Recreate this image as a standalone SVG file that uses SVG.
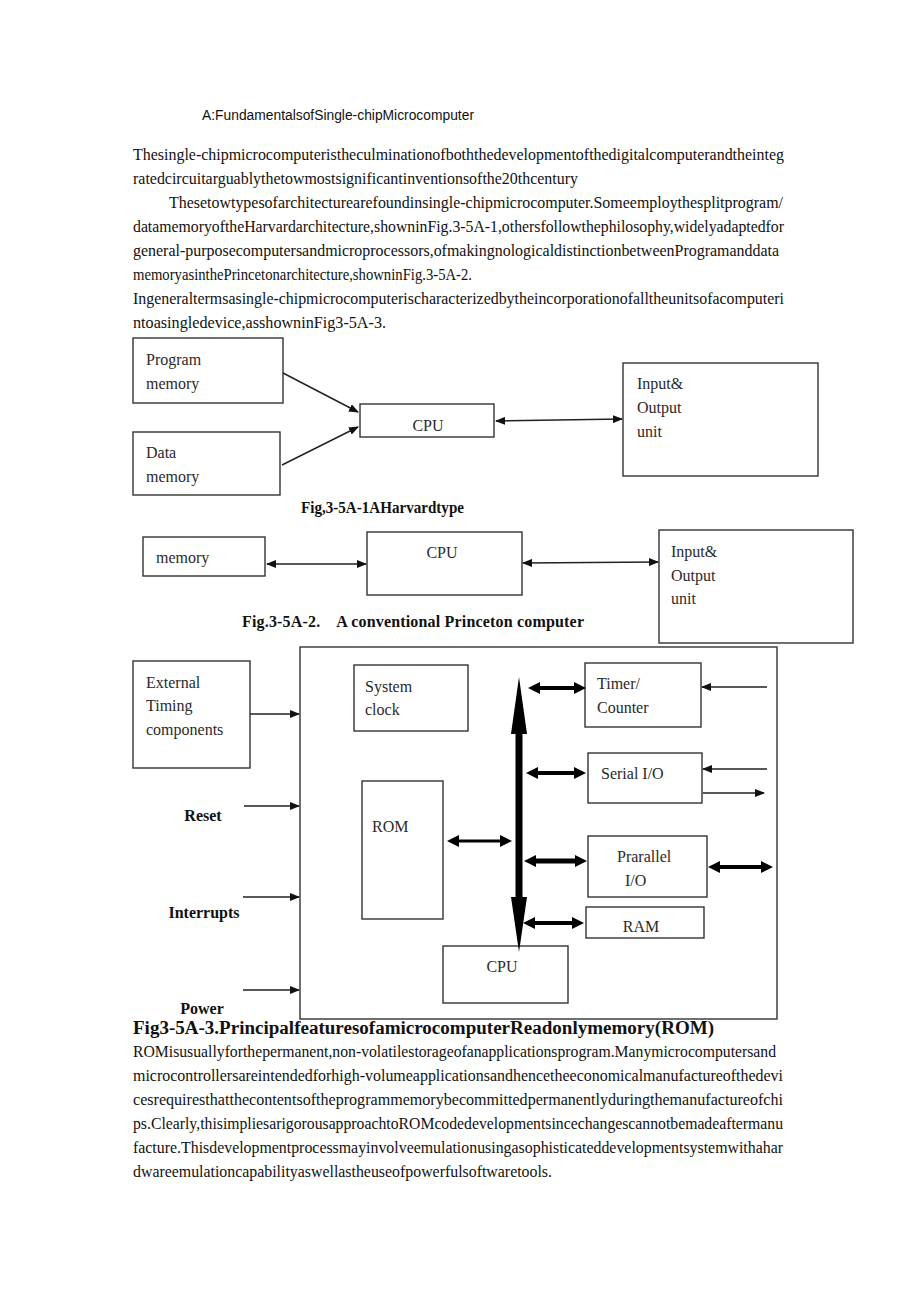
<svg xmlns="http://www.w3.org/2000/svg" width="920" height="1302" viewBox="0 0 920 1302">
<style>
.box{fill:none;stroke:#333;stroke-width:1.4}
.t{font-family:"Liberation Serif",serif;font-size:16px;fill:#2a2a2a}
.tb{font-family:"Liberation Serif",serif;font-size:16px;font-weight:bold;fill:#111}
.body{font-family:"Liberation Serif",serif;font-size:16.5px;fill:#111}
.capb{font-family:"Liberation Serif",serif;font-size:16.5px;font-weight:bold;fill:#111}
.title{font-family:"Liberation Sans",sans-serif;font-size:14px;fill:#111}
.ln{stroke:#222;stroke-width:1.5;fill:none}
.thk{stroke:#000;stroke-width:4;fill:none}
</style>
<defs>
<marker id="a" markerUnits="userSpaceOnUse" viewBox="0 0 10 8" markerWidth="10" markerHeight="8" refX="9" refY="4" orient="auto-start-reverse"><path d="M0,0 L10,4 L0,8 z" fill="#111"/></marker>
<marker id="b" markerUnits="userSpaceOnUse" viewBox="0 0 12 12" markerWidth="12" markerHeight="12" refX="4" refY="6" orient="auto-start-reverse"><path d="M0,0 L12,6 L0,12 z" fill="#000"/></marker>
</defs>
<rect width="920" height="1302" fill="#fff"/>

<g id="text-top">
<text class="title" x="202" y="120" textLength="272" lengthAdjust="spacingAndGlyphs">A:FundamentalsofSingle-chipMicrocomputer</text>
<text class="body" x="133" y="160" textLength="651" lengthAdjust="spacingAndGlyphs">Thesingle-chipmicrocomputeristheculminationofboththedevelopmentofthedigitalcomputerandtheinteg</text>
<text class="body" x="133" y="184" textLength="445" lengthAdjust="spacingAndGlyphs">ratedcircuitarguablythetowmostsignificantinventionsofthe20thcentury</text>
<text class="body" x="169" y="208" textLength="614" lengthAdjust="spacingAndGlyphs">Thesetowtypesofarchitecturearefoundinsingle-chipmicrocomputer.Someemploythesplitprogram/</text>
<text class="body" x="133" y="232" textLength="651" lengthAdjust="spacingAndGlyphs">datamemoryoftheHarvardarchitecture,showninFig.3-5A-1,othersfollowthephilosophy,widelyadaptedfor</text>
<text class="body" x="133" y="256" textLength="646" lengthAdjust="spacingAndGlyphs">general-purposecomputersandmicroprocessors,ofmakingnologicaldistinctionbetweenProgramanddata</text>
<text class="body" x="133" y="280" textLength="339" lengthAdjust="spacingAndGlyphs">memoryasinthePrincetonarchitecture,showninFig.3-5A-2.</text>
<text class="body" x="133" y="304" textLength="651" lengthAdjust="spacingAndGlyphs">Ingeneraltermsasingle-chipmicrocomputerischaracterizedbytheincorporationofalltheunitsofacomputeri</text>
<text class="body" x="133" y="328" textLength="253" lengthAdjust="spacingAndGlyphs">ntoasingledevice,asshowninFig3-5A-3.</text>
</g>

<g id="fig1-program-memory"><rect class="box" x="133" y="338" width="150" height="65"/><text class="t" x="146" y="365">Program</text><text class="t" x="146" y="389">memory</text></g>
<g id="fig1-data-memory"><rect class="box" x="133" y="432" width="147" height="63"/><text class="t" x="146" y="458">Data</text><text class="t" x="146" y="482">memory</text></g>
<g id="fig1-cpu"><rect class="box" x="360" y="404" width="134" height="33"/><text class="t" x="428" y="431" text-anchor="middle">CPU</text></g>
<g id="fig1-io"><rect class="box" x="623" y="363" width="195" height="113"/><text class="t" x="637" y="389">Input&amp;</text><text class="t" x="637" y="413">Output</text><text class="t" x="637" y="437">unit</text></g>
<g id="fig1-caption"><text class="capb" x="301" y="513" textLength="163" lengthAdjust="spacingAndGlyphs">Fig,3-5A-1AHarvardtype</text></g>

<g id="fig2-memory"><rect class="box" x="143" y="537" width="122" height="39"/><text class="t" x="156" y="563">memory</text></g>
<g id="fig2-cpu"><rect class="box" x="367" y="532" width="155" height="63"/><text class="t" x="442" y="558" text-anchor="middle">CPU</text></g>
<g id="fig2-io"><rect class="box" x="659" y="530" width="194" height="113"/><text class="t" x="671" y="557">Input&amp;</text><text class="t" x="671" y="581">Output</text><text class="t" x="671" y="604">unit</text></g>
<g id="fig2-caption"><text class="tb" x="242" y="627" textLength="342" lengthAdjust="spacing" xml:space="preserve">Fig.3-5A-2.    A conventional Princeton computer</text></g>

<g id="fig3-chip"><rect class="box" x="300" y="647" width="477" height="372"/></g>
<g id="fig3-external"><rect class="box" x="133" y="661" width="117" height="107"/><text class="t" x="146" y="688">External</text><text class="t" x="146" y="711">Timing</text><text class="t" x="146" y="735">components</text></g>
<g id="fig3-reset"><text class="tb" x="203" y="821" text-anchor="middle">Reset</text></g>
<g id="fig3-interrupts"><text class="tb" x="204" y="918" text-anchor="middle">Interrupts</text></g>
<g id="fig3-power"><text class="tb" x="202" y="1014" text-anchor="middle">Power</text></g>
<g id="fig3-sysclock"><rect class="box" x="354" y="665" width="114" height="66"/><text class="t" x="365" y="692">System</text><text class="t" x="365" y="715">clock</text></g>
<g id="fig3-rom"><rect class="box" x="362" y="781" width="81" height="138"/><text class="t" x="372" y="832">ROM</text></g>
<g id="fig3-timer"><rect class="box" x="585" y="663" width="116" height="64"/><text class="t" x="597" y="689">Timer/</text><text class="t" x="597" y="713">Counter</text></g>
<g id="fig3-serial"><rect class="box" x="588" y="753" width="114" height="50"/><text class="t" x="601" y="779">Serial I/O</text></g>
<g id="fig3-parallel"><rect class="box" x="588" y="836" width="119" height="61"/><text class="t" x="617" y="862">Prarallel</text><text class="t" x="625" y="886">I/O</text></g>
<g id="fig3-ram"><rect class="box" x="586" y="907" width="118" height="31"/><text class="t" x="641" y="932" text-anchor="middle">RAM</text></g>
<g id="fig3-cpu"><rect class="box" x="443" y="946" width="125" height="57"/><text class="t" x="502" y="972" text-anchor="middle">CPU</text></g>
<g id="fig3-caption"><text class="capb" style="font-size:18.5px" x="133" y="1034" textLength="581" lengthAdjust="spacingAndGlyphs">Fig3-5A-3.PrincipalfeaturesofamicrocomputerReadonlymemory(ROM)</text></g>

<g id="connectors">
<line class="ln" x1="283" y1="373" x2="358" y2="412" marker-end="url(#a)"/>
<line class="ln" x1="282" y1="465" x2="358" y2="427" marker-end="url(#a)"/>
<line class="ln" x1="496" y1="421" x2="622" y2="419" marker-start="url(#a)" marker-end="url(#a)"/>
<line class="ln" x1="267" y1="564" x2="366" y2="564" marker-start="url(#a)" marker-end="url(#a)"/>
<line class="ln" x1="523" y1="563" x2="658" y2="562" marker-start="url(#a)" marker-end="url(#a)"/>
<line class="ln" x1="250" y1="714" x2="299" y2="714" marker-end="url(#a)"/>
<line class="ln" x1="244" y1="806" x2="299" y2="806" marker-end="url(#a)"/>
<line class="ln" x1="243" y1="897" x2="299" y2="897" marker-end="url(#a)"/>
<line class="ln" x1="243" y1="990" x2="299" y2="990" marker-end="url(#a)"/>
<line class="ln" x1="767" y1="687" x2="702" y2="687" marker-end="url(#a)"/>
<line class="ln" x1="767" y1="769" x2="703" y2="769" marker-end="url(#a)"/>
<line class="ln" x1="703" y1="793" x2="764" y2="793" marker-end="url(#a)"/>
<g id="bus">
<rect x="515.5" y="730" width="7" height="171" fill="#000"/>
<polygon points="519,677 527,734 511,734" fill="#000"/>
<polygon points="511,897 527,897 519,952" fill="#000"/>
</g>
<line class="thk" x1="536" y1="688" x2="578" y2="688" marker-start="url(#b)" marker-end="url(#b)"/>
<line class="thk" x1="534" y1="773" x2="578" y2="773" marker-start="url(#b)" marker-end="url(#b)"/>
<line class="thk" style="stroke-width:3" x1="455" y1="841" x2="504" y2="841" marker-start="url(#b)" marker-end="url(#b)"/>
<line class="thk" style="stroke-width:5" x1="532" y1="861" x2="579" y2="861" marker-start="url(#b)" marker-end="url(#b)"/>
<line class="thk" x1="716" y1="867" x2="765" y2="867" marker-start="url(#b)" marker-end="url(#b)"/>
<line class="thk" x1="531" y1="923" x2="576" y2="923" marker-start="url(#b)" marker-end="url(#b)"/>
</g>

<g id="text-bottom">
<text class="body" x="133" y="1057" textLength="643" lengthAdjust="spacingAndGlyphs">ROMisusuallyforthepermanent,non-volatilestorageofanapplicationsprogram.Manymicrocomputersand</text>
<text class="body" x="133" y="1081" textLength="650" lengthAdjust="spacingAndGlyphs">microcontrollersareintendedforhigh-volumeapplicationsandhencetheeconomicalmanufactureofthedevi</text>
<text class="body" x="133" y="1105" textLength="650" lengthAdjust="spacingAndGlyphs">cesrequiresthatthecontentsoftheprogrammemorybecommittedpermanentlyduringthemanufactureofchi</text>
<text class="body" x="133" y="1129" textLength="650" lengthAdjust="spacingAndGlyphs">ps.Clearly,thisimpliesarigorousapproachtoROMcodedevelopmentsincechangescannotbemadeaftermanu</text>
<text class="body" x="133" y="1153" textLength="650" lengthAdjust="spacingAndGlyphs">facture.Thisdevelopmentprocessmayinvolveemulationusingasophisticateddevelopmentsystemwithahar</text>
<text class="body" x="133" y="1177" textLength="419" lengthAdjust="spacingAndGlyphs">dwareemulationcapabilityaswellastheuseofpowerfulsoftwaretools.</text>
</g>
</svg>
